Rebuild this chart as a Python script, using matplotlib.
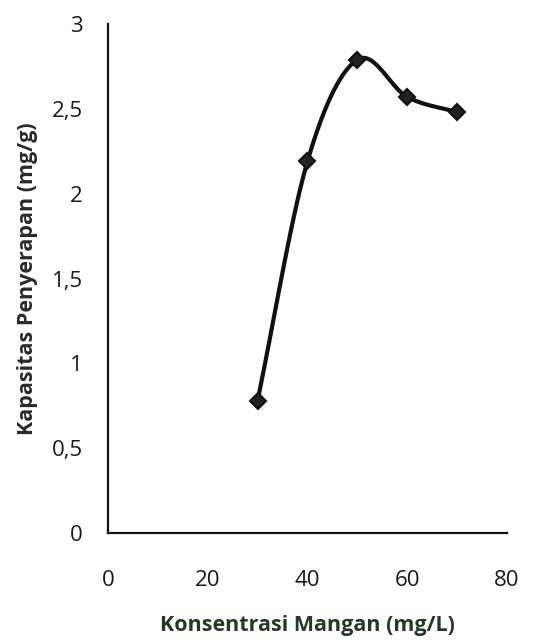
import matplotlib
matplotlib.use('Agg')
import matplotlib.pyplot as plt
import numpy as np

plt.rcParams['font.family'] = ['Open Sans', 'DejaVu Sans']

konsentrasi = [30, 40, 50, 60, 70]
kapasitas = [0.78, 2.19, 2.79, 2.57, 2.48]
x_ticks = [0, 20, 40, 60, 80]
y_ticks = [0, 0.5, 1, 1.5, 2, 2.5, 3]
y_labels = ['0', '0,5', '1', '1,5', '2', '2,5', '3']


def smooth(xs, ys, n=30):
    # Catmull-Rom curve through the points, like Excel's smoothed line
    xs = np.asarray(xs, float)
    ys = np.asarray(ys, float)
    px = np.concatenate([[2 * xs[0] - xs[1]], xs, [2 * xs[-1] - xs[-2]]])
    py = np.concatenate([[2 * ys[0] - ys[1]], ys, [2 * ys[-1] - ys[-2]]])
    t = np.linspace(0, 1, n)
    out_x, out_y = [], []
    for i in range(1, len(px) - 2):
        for p, o in ((px, out_x), (py, out_y)):
            p0, p1, p2, p3 = p[i - 1], p[i], p[i + 1], p[i + 2]
            o.extend(0.5 * (2 * p1 + (-p0 + p2) * t
                            + (2 * p0 - 5 * p1 + 4 * p2 - p3) * t ** 2
                            + (-p0 + 3 * p1 - 3 * p2 + p3) * t ** 3))
    return out_x, out_y


fig = plt.figure(figsize=(5.5, 6.41), dpi=100)
ax = fig.add_axes([0.196, 0.1685, 0.726, 0.794])

sx, sy = smooth(konsentrasi, kapasitas)
ax.plot(sx, sy, color='#111111', linewidth=3, solid_capstyle='round')
ax.plot(konsentrasi, kapasitas, linestyle='none', marker='D', markersize=8.5,
        markerfacecolor='#222222', markeredgecolor='#111111', markeredgewidth=1.5)

ax.set_xlim(0, 80)
ax.set_ylim(0, 3)
ax.set_xticks(x_ticks)
ax.set_yticks(y_ticks)
ax.set_yticklabels(y_labels)
ax.tick_params(axis='both', length=0, labelsize=16, colors='#1a1a1a')
ax.tick_params(axis='x', pad=27)
ax.tick_params(axis='y', pad=18)

for s in ['top', 'right']:
    ax.spines[s].set_visible(False)
for s in ['left', 'bottom']:
    ax.spines[s].set_linewidth(1.6)
    ax.spines[s].set_color('#111111')

ax.set_xlabel('Konsentrasi Mangan (mg/L)', fontsize=15.5, fontweight='bold',
              color='#263826', labelpad=17)
ax.set_ylabel('Kapasitas Penyerapan (mg/g)', fontsize=15.5, fontweight='bold',
              color='#2a2a2a', labelpad=10)

fig.savefig('out.png', dpi=100)
